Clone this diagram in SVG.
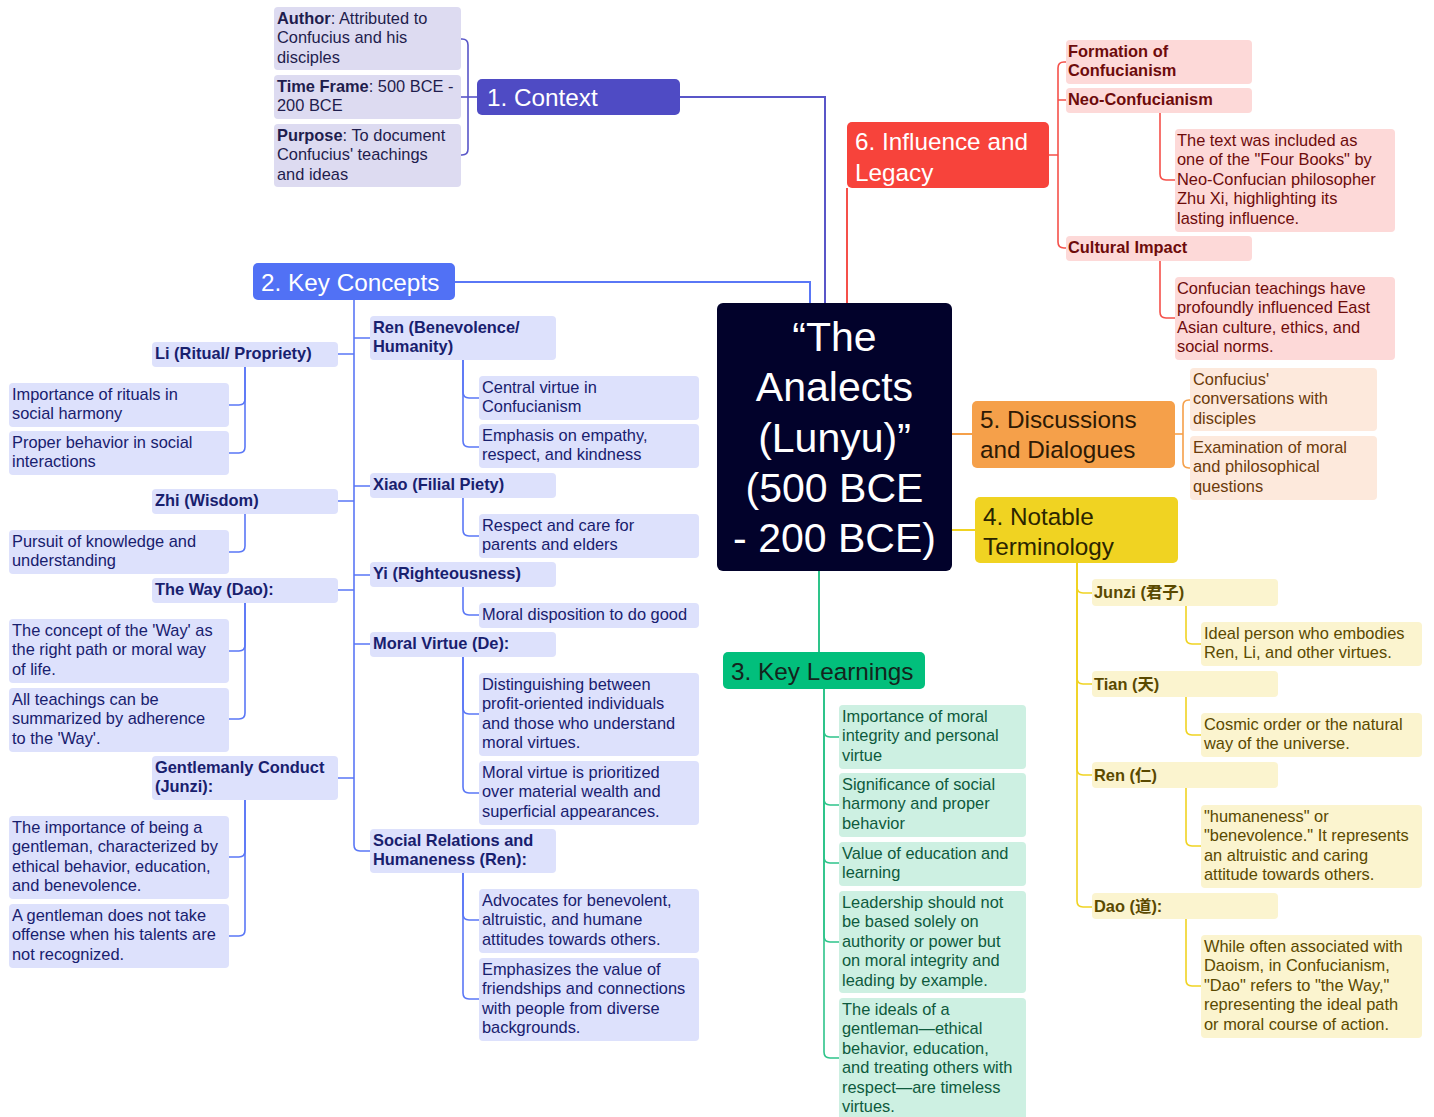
<svg xmlns="http://www.w3.org/2000/svg" width="1434" height="1117" viewBox="0 0 1434 1117">
  <style>
    text { font-family: "Liberation Sans", Arial, Helvetica, sans-serif; font-size: 16.4px; }
    .b { font-weight: bold; }
    .head { font-size: 24.3px; }
    .root { font-size: 41px; fill: #ffffff; text-anchor: middle; }
    .wire { fill: none; stroke-width: 1.6; }
    .trunk { fill: none; stroke-width: 2; }
    /* 1. Context */
    .c1 { fill: #4f4bc4; } .c1t { fill: #ffffff; } .c1s { fill: #dddbf1; } .c1x { fill: #1f1d4d; } .c1w { stroke: #5956c8; }
    /* 2. Key Concepts */
    .c2 { fill: #5171f5; } .c2t { fill: #ffffff; } .c2s { fill: #dde1fc; } .c2x { fill: #18206e; } .c2w { stroke: #5a77f6; }
    /* 3. Key Learnings */
    .c3 { fill: #02bf7c; } .c3t { fill: #14241c; } .c3s { fill: #cdf0e2; } .c3x { fill: #0e5a3d; } .c3w { stroke: #2ec48a; }
    /* 4. Notable Terminology */
    .c4 { fill: #f0d322; } .c4t { fill: #2b2500; } .c4s { fill: #fbf4cf; } .c4x { fill: #5a4900; } .c4w { stroke: #f0d322; }
    /* 5. Discussions and Dialogues */
    .c5 { fill: #f5a04a; } .c5t { fill: #2d1a05; } .c5s { fill: #fde9dc; } .c5x { fill: #6b3a0a; } .c5w { stroke: #f5a04a; }
    /* 6. Influence and Legacy */
    .c6 { fill: #f7433b; } .c6t { fill: #ffffff; } .c6s { fill: #fdd9d8; } .c6x { fill: #6d0b0b; } .c6w { stroke: #f5504a; }
  </style>

  <rect width="1434" height="1117" fill="#ffffff"/>

  <!-- connectors -->
  <g id="connectors">
    <!-- root to main topics -->
    <path class="trunk c1w" d="M680 97 H825 V303"/>
    <path class="trunk c2w" d="M455 282 H810 V303"/>
    <path class="trunk c6w" d="M847 303 V188"/>
    <path class="trunk c5w" d="M952 434 H972"/>
    <path class="trunk c4w" d="M952 530 H975"/>
    <path class="trunk c3w" d="M819 571 V652"/>

    <!-- context bracket -->
    <path class="wire c1w" d="M477 97 H461"/>
    <path class="wire c1w" d="M468 97 V45 Q468 39 462 39 H461"/>
    <path class="wire c1w" d="M468 97 V149 Q468 155 462 155 H461"/>

    <!-- key concepts spine -->
    <path class="wire c2w" d="M354 300 V845 Q354 851 360 851 H370"/>
    <path class="wire c2w" d="M354 338 H370 M354 486 H370 M354 575 H370 M354 644 H370"/>
    <path class="wire c2w" d="M354 354 H338 M354 501 H338 M354 590 H338 M354 778 H338"/>
    <!-- key concepts, left details -->
    <path class="wire c2w" d="M245 367 V399 Q245 405 239 405 H229"/>
    <path class="wire c2w" d="M245 367 V447 Q245 453 239 453 H229"/>
    <path class="wire c2w" d="M245 514 V546 Q245 552 239 552 H229"/>
    <path class="wire c2w" d="M245 603 V645 Q245 651 239 651 H229"/>
    <path class="wire c2w" d="M245 603 V713 Q245 719 239 719 H229"/>
    <path class="wire c2w" d="M245 800 V851 Q245 857 239 857 H229"/>
    <path class="wire c2w" d="M245 800 V930 Q245 936 239 936 H229"/>
    <!-- key concepts, right details -->
    <path class="wire c2w" d="M463 360 V392 Q463 398 469 398 H479"/>
    <path class="wire c2w" d="M463 360 V441 Q463 447 469 447 H479"/>
    <path class="wire c2w" d="M463 498 V530 Q463 536 469 536 H479"/>
    <path class="wire c2w" d="M463 587 V609 Q463 615 469 615 H479"/>
    <path class="wire c2w" d="M463 657 V708 Q463 714 469 714 H479"/>
    <path class="wire c2w" d="M463 657 V787 Q463 793 469 793 H479"/>
    <path class="wire c2w" d="M463 873 V914 Q463 920 469 920 H479"/>
    <path class="wire c2w" d="M463 873 V993 Q463 999 469 999 H479"/>

    <!-- key learnings -->
    <path class="wire c3w" d="M824 689 V731 Q824 737 830 737 H839"/>
    <path class="wire c3w" d="M824 689 V799 Q824 805 830 805 H839"/>
    <path class="wire c3w" d="M824 689 V857 Q824 863 830 863 H839"/>
    <path class="wire c3w" d="M824 689 V936 Q824 942 830 942 H839"/>
    <path class="wire c3w" d="M824 689 V1052 Q824 1058 830 1058 H839"/>

    <!-- notable terminology -->
    <path class="wire c4w" d="M1077 563 V587 Q1077 593 1083 593 H1092"/>
    <path class="wire c4w" d="M1077 563 V678 Q1077 684 1083 684 H1092"/>
    <path class="wire c4w" d="M1077 563 V769 Q1077 775 1083 775 H1092"/>
    <path class="wire c4w" d="M1077 563 V901 Q1077 907 1083 907 H1092"/>
    <path class="wire c4w" d="M1186 606 V638 Q1186 644 1192 644 H1201"/>
    <path class="wire c4w" d="M1186 697 V729 Q1186 735 1192 735 H1201"/>
    <path class="wire c4w" d="M1186 788 V840 Q1186 846 1192 846 H1201"/>
    <path class="wire c4w" d="M1186 919 V980 Q1186 986 1192 986 H1201"/>

    <!-- discussions -->
    <path class="wire c5w" d="M1174 434 H1183"/>
    <path class="wire c5w" d="M1183 434 V406 Q1183 400 1189 400 H1190"/>
    <path class="wire c5w" d="M1183 434 V462 Q1183 468 1189 468 H1190"/>

    <!-- influence -->
    <path class="wire c6w" d="M1049 155 H1058 M1058 100 H1066"/>
    <path class="wire c6w" d="M1058 155 V68 Q1058 62 1064 62 H1066"/>
    <path class="wire c6w" d="M1058 155 V242 Q1058 248 1064 248 H1066"/>
    <path class="wire c6w" d="M1160 113 V174 Q1160 180 1166 180 H1175"/>
    <path class="wire c6w" d="M1160 261 V312 Q1160 318 1166 318 H1175"/>
  </g>

  <!-- central topic -->
  <g id="root">
    <rect x="717" y="303" width="235" height="268" rx="6" fill="#02022b"/>
    <text class="root" x="834.5" y="351">“The</text>
    <text class="root" x="834.5" y="401">Analects</text>
    <text class="root" x="834.5" y="452">(Lunyu)”</text>
    <text class="root" x="834.5" y="502">(500 BCE</text>
    <text class="root" x="834.5" y="552">- 200 BCE)</text>
  </g>

  <!-- 1. Context -->
  <g id="context">
    <rect class="c1" x="477" y="79" width="203" height="36" rx="5"/>
    <text class="head c1t" x="487" y="106">1. Context</text>
  </g>
  <g id="context-author">
    <rect class="c1s" x="274" y="7" width="187" height="63" rx="4"/>
    <text class="c1x" x="277" y="24"><tspan class="b">Author</tspan>: Attributed to<tspan x="277" dy="19.4">Confucius and his</tspan><tspan x="277" dy="19.4">disciples</tspan></text>
  </g>
  <g id="context-time">
    <rect class="c1s" x="274" y="75" width="187" height="44" rx="4"/>
    <text class="c1x" x="277" y="92"><tspan class="b">Time Frame</tspan>: 500 BCE -<tspan x="277" dy="19.4">200 BCE</tspan></text>
  </g>
  <g id="context-purpose">
    <rect class="c1s" x="274" y="124" width="187" height="63" rx="4"/>
    <text class="c1x" x="277" y="141"><tspan class="b">Purpose</tspan>: To document<tspan x="277" dy="19.4">Confucius' teachings</tspan><tspan x="277" dy="19.4">and ideas</tspan></text>
  </g>

  <!-- 2. Key Concepts -->
  <g id="concepts">
    <rect class="c2" x="253" y="263" width="202" height="37" rx="5"/>
    <text class="head c2t" x="261" y="291">2. Key Concepts</text>
  </g>

  <g id="concept-li">
    <rect class="c2s" x="152" y="342" width="186" height="25" rx="4"/>
    <text class="c2x b" x="155" y="359">Li (Ritual/ Propriety)</text>
  </g>
  <g id="li-1">
    <rect class="c2s" x="9" y="383" width="220" height="44" rx="4"/>
    <text class="c2x" x="12" y="400">Importance of rituals in<tspan x="12" dy="19.4">social harmony</tspan></text>
  </g>
  <g id="li-2">
    <rect class="c2s" x="9" y="431" width="220" height="44" rx="4"/>
    <text class="c2x" x="12" y="448">Proper behavior in social<tspan x="12" dy="19.4">interactions</tspan></text>
  </g>

  <g id="concept-zhi">
    <rect class="c2s" x="152" y="489" width="186" height="25" rx="4"/>
    <text class="c2x b" x="155" y="506">Zhi (Wisdom)</text>
  </g>
  <g id="zhi-1">
    <rect class="c2s" x="9" y="530" width="220" height="44" rx="4"/>
    <text class="c2x" x="12" y="547">Pursuit of knowledge and<tspan x="12" dy="19.4">understanding</tspan></text>
  </g>

  <g id="concept-way">
    <rect class="c2s" x="152" y="578" width="186" height="25" rx="4"/>
    <text class="c2x b" x="155" y="595">The Way (Dao):</text>
  </g>
  <g id="way-1">
    <rect class="c2s" x="9" y="619" width="220" height="64" rx="4"/>
    <text class="c2x" x="12" y="636">The concept of the 'Way' as<tspan x="12" dy="19.4">the right path or moral way</tspan><tspan x="12" dy="19.4">of life.</tspan></text>
  </g>
  <g id="way-2">
    <rect class="c2s" x="9" y="688" width="220" height="64" rx="4"/>
    <text class="c2x" x="12" y="705">All teachings can be<tspan x="12" dy="19.4">summarized by adherence</tspan><tspan x="12" dy="19.4">to the 'Way'.</tspan></text>
  </g>

  <g id="concept-junzi">
    <rect class="c2s" x="152" y="756" width="186" height="44" rx="4"/>
    <text class="c2x b" x="155" y="773">Gentlemanly Conduct<tspan x="155" dy="19.4">(Junzi):</tspan></text>
  </g>
  <g id="junzi-1">
    <rect class="c2s" x="9" y="816" width="220" height="83" rx="4"/>
    <text class="c2x" x="12" y="833">The importance of being a<tspan x="12" dy="19.4">gentleman, characterized by</tspan><tspan x="12" dy="19.4">ethical behavior, education,</tspan><tspan x="12" dy="19.4">and benevolence.</tspan></text>
  </g>
  <g id="junzi-2">
    <rect class="c2s" x="9" y="904" width="220" height="64" rx="4"/>
    <text class="c2x" x="12" y="921">A gentleman does not take<tspan x="12" dy="19.4">offense when his talents are</tspan><tspan x="12" dy="19.4">not recognized.</tspan></text>
  </g>

  <g id="concept-ren">
    <rect class="c2s" x="370" y="316" width="186" height="44" rx="4"/>
    <text class="c2x b" x="373" y="333">Ren (Benevolence/<tspan x="373" dy="19.4">Humanity)</tspan></text>
  </g>
  <g id="ren-1">
    <rect class="c2s" x="479" y="376" width="220" height="44" rx="4"/>
    <text class="c2x" x="482" y="393">Central virtue in<tspan x="482" dy="19.4">Confucianism</tspan></text>
  </g>
  <g id="ren-2">
    <rect class="c2s" x="479" y="424" width="220" height="44" rx="4"/>
    <text class="c2x" x="482" y="441">Emphasis on empathy,<tspan x="482" dy="19.4">respect, and kindness</tspan></text>
  </g>

  <g id="concept-xiao">
    <rect class="c2s" x="370" y="473" width="186" height="25" rx="4"/>
    <text class="c2x b" x="373" y="490">Xiao (Filial Piety)</text>
  </g>
  <g id="xiao-1">
    <rect class="c2s" x="479" y="514" width="220" height="44" rx="4"/>
    <text class="c2x" x="482" y="531">Respect and care for<tspan x="482" dy="19.4">parents and elders</tspan></text>
  </g>

  <g id="concept-yi">
    <rect class="c2s" x="370" y="562" width="186" height="25" rx="4"/>
    <text class="c2x b" x="373" y="579">Yi (Righteousness)</text>
  </g>
  <g id="yi-1">
    <rect class="c2s" x="479" y="603" width="220" height="25" rx="4"/>
    <text class="c2x" x="482" y="620">Moral disposition to do good</text>
  </g>

  <g id="concept-de">
    <rect class="c2s" x="370" y="632" width="186" height="25" rx="4"/>
    <text class="c2x b" x="373" y="649">Moral Virtue (De):</text>
  </g>
  <g id="de-1">
    <rect class="c2s" x="479" y="673" width="220" height="83" rx="4"/>
    <text class="c2x" x="482" y="690">Distinguishing between<tspan x="482" dy="19.4">profit-oriented individuals</tspan><tspan x="482" dy="19.4">and those who understand</tspan><tspan x="482" dy="19.4">moral virtues.</tspan></text>
  </g>
  <g id="de-2">
    <rect class="c2s" x="479" y="761" width="220" height="64" rx="4"/>
    <text class="c2x" x="482" y="778">Moral virtue is prioritized<tspan x="482" dy="19.4">over material wealth and</tspan><tspan x="482" dy="19.4">superficial appearances.</tspan></text>
  </g>

  <g id="concept-social">
    <rect class="c2s" x="370" y="829" width="186" height="44" rx="4"/>
    <text class="c2x b" x="373" y="846">Social Relations and<tspan x="373" dy="19.4">Humaneness (Ren):</tspan></text>
  </g>
  <g id="social-1">
    <rect class="c2s" x="479" y="889" width="220" height="64" rx="4"/>
    <text class="c2x" x="482" y="906">Advocates for benevolent,<tspan x="482" dy="19.4">altruistic, and humane</tspan><tspan x="482" dy="19.4">attitudes towards others.</tspan></text>
  </g>
  <g id="social-2">
    <rect class="c2s" x="479" y="958" width="220" height="83" rx="4"/>
    <text class="c2x" x="482" y="975">Emphasizes the value of<tspan x="482" dy="19.4">friendships and connections</tspan><tspan x="482" dy="19.4">with people from diverse</tspan><tspan x="482" dy="19.4">backgrounds.</tspan></text>
  </g>

  <!-- 3. Key Learnings -->
  <g id="learnings">
    <rect class="c3" x="723" y="652" width="202" height="37" rx="5"/>
    <text class="head c3t" x="731" y="680">3. Key Learnings</text>
  </g>
  <g id="learning-1">
    <rect class="c3s" x="839" y="705" width="187" height="64" rx="4"/>
    <text class="c3x" x="842" y="722">Importance of moral<tspan x="842" dy="19.4">integrity and personal</tspan><tspan x="842" dy="19.4">virtue</tspan></text>
  </g>
  <g id="learning-2">
    <rect class="c3s" x="839" y="773" width="187" height="64" rx="4"/>
    <text class="c3x" x="842" y="790">Significance of social<tspan x="842" dy="19.4">harmony and proper</tspan><tspan x="842" dy="19.4">behavior</tspan></text>
  </g>
  <g id="learning-3">
    <rect class="c3s" x="839" y="842" width="187" height="44" rx="4"/>
    <text class="c3x" x="842" y="859">Value of education and<tspan x="842" dy="19.4">learning</tspan></text>
  </g>
  <g id="learning-4">
    <rect class="c3s" x="839" y="891" width="187" height="102" rx="4"/>
    <text class="c3x" x="842" y="908">Leadership should not<tspan x="842" dy="19.4">be based solely on</tspan><tspan x="842" dy="19.4">authority or power but</tspan><tspan x="842" dy="19.4">on moral integrity and</tspan><tspan x="842" dy="19.4">leading by example.</tspan></text>
  </g>
  <g id="learning-5">
    <rect class="c3s" x="839" y="998" width="187" height="124" rx="4"/>
    <text class="c3x" x="842" y="1015">The ideals of a<tspan x="842" dy="19.4">gentleman—ethical</tspan><tspan x="842" dy="19.4">behavior, education,</tspan><tspan x="842" dy="19.4">and treating others with</tspan><tspan x="842" dy="19.4">respect—are timeless</tspan><tspan x="842" dy="19.4">virtues.</tspan></text>
  </g>

  <!-- 4. Notable Terminology -->
  <g id="terminology">
    <rect class="c4" x="975" y="497" width="203" height="66" rx="5"/>
    <text class="head c4t" x="983" y="525">4. Notable<tspan x="983" dy="30">Terminology</tspan></text>
  </g>
  <g id="term-junzi">
    <rect class="c4s" x="1092" y="579" width="186" height="27" rx="4"/>
    <text class="c4x b" x="1094" y="598">Junzi (<tspan font-family="'Noto Sans CJK SC', sans-serif">君子</tspan>)</text>
  </g>
  <g id="term-junzi-1">
    <rect class="c4s" x="1201" y="622" width="221" height="44" rx="4"/>
    <text class="c4x" x="1204" y="639">Ideal person who embodies<tspan x="1204" dy="19.4">Ren, Li, and other virtues.</tspan></text>
  </g>
  <g id="term-tian">
    <rect class="c4s" x="1092" y="671" width="186" height="26" rx="4"/>
    <text class="c4x b" x="1094" y="690">Tian (<tspan font-family="'Noto Sans CJK SC', sans-serif">天</tspan>)</text>
  </g>
  <g id="term-tian-1">
    <rect class="c4s" x="1201" y="713" width="221" height="44" rx="4"/>
    <text class="c4x" x="1204" y="730">Cosmic order or the natural<tspan x="1204" dy="19.4">way of the universe.</tspan></text>
  </g>
  <g id="term-ren">
    <rect class="c4s" x="1092" y="762" width="186" height="26" rx="4"/>
    <text class="c4x b" x="1094" y="781">Ren (<tspan font-family="'Noto Sans CJK SC', sans-serif">仁</tspan>)</text>
  </g>
  <g id="term-ren-1">
    <rect class="c4s" x="1201" y="805" width="221" height="83" rx="4"/>
    <text class="c4x" x="1204" y="822">"humaneness" or<tspan x="1204" dy="19.4">"benevolence." It represents</tspan><tspan x="1204" dy="19.4">an altruistic and caring</tspan><tspan x="1204" dy="19.4">attitude towards others.</tspan></text>
  </g>
  <g id="term-dao">
    <rect class="c4s" x="1092" y="893" width="186" height="26" rx="4"/>
    <text class="c4x b" x="1094" y="912">Dao (<tspan font-family="'Noto Sans CJK SC', sans-serif">道</tspan>):</text>
  </g>
  <g id="term-dao-1">
    <rect class="c4s" x="1201" y="935" width="221" height="103" rx="4"/>
    <text class="c4x" x="1204" y="952">While often associated with<tspan x="1204" dy="19.4">Daoism, in Confucianism,</tspan><tspan x="1204" dy="19.4">"Dao" refers to "the Way,"</tspan><tspan x="1204" dy="19.4">representing the ideal path</tspan><tspan x="1204" dy="19.4">or moral course of action.</tspan></text>
  </g>

  <!-- 5. Discussions and Dialogues -->
  <g id="discussions">
    <rect class="c5" x="972" y="401" width="203" height="67" rx="5"/>
    <text class="head c5t" x="980" y="428">5. Discussions<tspan x="980" dy="30">and Dialogues</tspan></text>
  </g>
  <g id="discussion-1">
    <rect class="c5s" x="1190" y="368" width="187" height="63" rx="4"/>
    <text class="c5x" x="1193" y="385">Confucius'<tspan x="1193" dy="19.4">conversations with</tspan><tspan x="1193" dy="19.4">disciples</tspan></text>
  </g>
  <g id="discussion-2">
    <rect class="c5s" x="1190" y="436" width="187" height="64" rx="4"/>
    <text class="c5x" x="1193" y="453">Examination of moral<tspan x="1193" dy="19.4">and philosophical</tspan><tspan x="1193" dy="19.4">questions</tspan></text>
  </g>

  <!-- 6. Influence and Legacy -->
  <g id="influence">
    <rect class="c6" x="847" y="122" width="202" height="66" rx="5"/>
    <text class="head c6t" x="855" y="150">6. Influence and<tspan x="855" dy="31">Legacy</tspan></text>
  </g>
  <g id="influence-formation">
    <rect class="c6s" x="1066" y="40" width="186" height="44" rx="4"/>
    <text class="c6x b" x="1068" y="57">Formation of<tspan x="1068" dy="19.4">Confucianism</tspan></text>
  </g>
  <g id="influence-neo">
    <rect class="c6s" x="1066" y="88" width="186" height="25" rx="4"/>
    <text class="c6x b" x="1068" y="105">Neo-Confucianism</text>
  </g>
  <g id="influence-neo-1">
    <rect class="c6s" x="1175" y="129" width="220" height="103" rx="4"/>
    <text class="c6x" x="1177" y="146">The text was included as<tspan x="1177" dy="19.4">one of the "Four Books" by</tspan><tspan x="1177" dy="19.4">Neo-Confucian philosopher</tspan><tspan x="1177" dy="19.4">Zhu Xi, highlighting its</tspan><tspan x="1177" dy="19.4">lasting influence.</tspan></text>
  </g>
  <g id="influence-culture">
    <rect class="c6s" x="1066" y="236" width="186" height="25" rx="4"/>
    <text class="c6x b" x="1068" y="253">Cultural Impact</text>
  </g>
  <g id="influence-culture-1">
    <rect class="c6s" x="1175" y="277" width="220" height="83" rx="4"/>
    <text class="c6x" x="1177" y="294">Confucian teachings have<tspan x="1177" dy="19.4">profoundly influenced East</tspan><tspan x="1177" dy="19.4">Asian culture, ethics, and</tspan><tspan x="1177" dy="19.4">social norms.</tspan></text>
  </g>
</svg>
